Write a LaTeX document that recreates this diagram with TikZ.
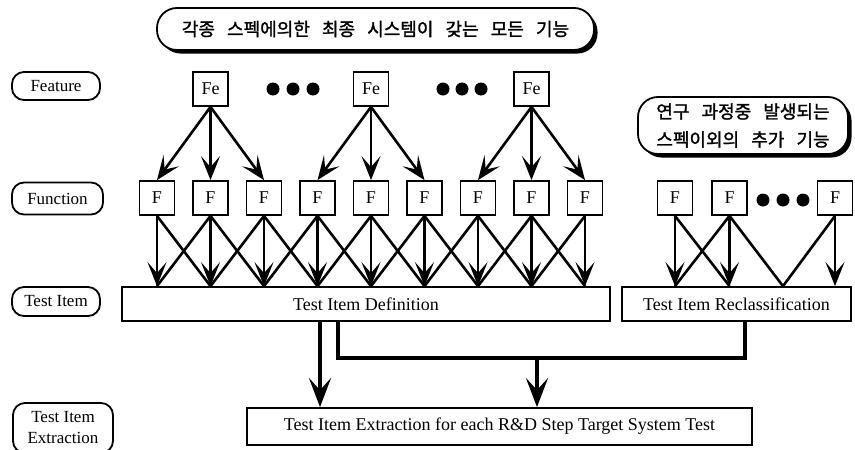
\documentclass[tikz,border=0pt]{standalone}
\usepackage{fontspec}
\setmainfont{Liberation Serif}
\newfontfamily\kr{Noto Sans CJK KR}[WordSpace=3,FakeBold=1.5]
\usepackage{tikz}
\usetikzlibrary{arrows.meta,positioning,shadows}

\begin{document}
\begin{tikzpicture}[x=1pt, y=-1pt,
    lbl/.style={rectangle, rounded corners=12pt, draw=black, line width=1.8pt, align=center, inner sep=1pt, font=\fontsize{17}{21}\selectfont},
    fbox/.style={rectangle, draw=black, line width=1.8pt, minimum width=35pt, minimum height=34pt, inner sep=0pt, font=\fontsize{18}{20}\selectfont},
    note/.style={rectangle, rounded corners=20pt, draw=black, line width=1.8pt, fill=white, align=center, font=\kr\fontsize{18}{28}\selectfont, drop shadow={shadow xshift=3.5pt, shadow yshift=-3.5pt, fill=black, opacity=1}},
    bar/.style={rectangle, draw=black, line width=1.8pt, inner sep=0pt, font=\fontsize{18}{20}\selectfont},
    arr/.style={-{Stealth[length=24pt, width=19pt, inset=11pt]}, line width=2.6pt},
    wire/.style={line width=2.6pt},
    heavy/.style={line width=4.5pt},
    bigarr/.style={-{Stealth[length=29pt, width=22pt, inset=12pt]}, line width=4.5pt},
    dot/.style={circle, fill=black, inner sep=0pt, minimum size=13pt}
]
\useasboundingbox (0,0) rectangle (855,450);
\clip (0,0) rectangle (855,450);

\node[note, minimum width=437pt, minimum height=42pt] (spec) at (375.5,29) {각종 스펙에의한 최종 시스템이 갖는 모든 기능};
\node[note, minimum width=210pt, minimum height=57pt] (extra) at (743,125.5) {연구 과정중 발생되는\\스펙이외의 추가 기능};

\node[lbl, minimum width=88pt, minimum height=28pt] (lfeat) at (56,86) {Feature};
\node[lbl, minimum width=91pt, minimum height=32pt] (lfunc) at (57.5,198.5) {Function};
\node[lbl, minimum width=88pt, minimum height=29pt] (litem) at (56,301.5) {Test Item};
\node[lbl, minimum width=100pt, minimum height=50pt] (lext) at (63,428) {Test Item\\Extraction};

\node[fbox] (fe1) at (210.5,89) {Fe};
\node[fbox] (fe2) at (371,89) {Fe};
\node[fbox] (fe3) at (531.5,89) {Fe};
\foreach \x [count=\k] in {273,293,313,443,462,481}
  \node[dot] (dot\k) at (\x,89) {};

\foreach \i in {1,...,9}
  \node[fbox] (f\i) at ({157+53.5*(\i-1)},198) {F};
\node[fbox] (g1) at (675,198) {F};
\node[fbox] (g2) at (729.5,198) {F};
\node[fbox] (g3) at (835,198) {F};
\foreach \x [count=\k] in {763,783,803}
  \node[dot] (gdot\k) at (\x,200) {};

\node[bar, minimum width=488pt, minimum height=34pt] (def) at (366,304) {Test Item Definition};
\node[bar, minimum width=229pt, minimum height=34pt] (recl) at (736.5,304) {Test Item Reclassification};
\node[bar, minimum width=505pt, minimum height=37pt] (ext) at (499.5,426.5) {Test Item Extraction for each R\&D Step Target System Test};

\foreach \e/\a/\b/\c in {fe1/f1/f2/f3, fe2/f4/f5/f6, fe3/f7/f8/f9}
  \foreach \t in {\a,\b,\c}
    \draw[arr] (\e.south) -- (\t.north);

\foreach \i/\j in {1/2,2/3,3/4,4/5,5/6,6/7,7/8,8/9} {
  \draw[wire] (f\i.south) -- (f\j.south |- def.north);
  \draw[wire] (f\j.south) -- (f\i.south |- def.north);
}
\foreach \i in {1,...,9}
  \draw[arr] (f\i.south) -- (f\i.south |- def.north);

\coordinate (vtip) at ([xshift=46.5pt]recl.north);
\draw[wire] (g1.south) -- (g2.south |- recl.north);
\draw[wire] (g2.south) -- (g1.south |- recl.north);
\draw[wire] (g2.south) -- (vtip) -- (g3.south);
\foreach \g in {g1,g2,g3}
  \draw[arr] (\g.south) -- (\g.south |- recl.north);

\coordinate (split) at (537,358);
\draw[bigarr] ([xshift=-46pt]def.south) -- ([xshift=-46pt]def.south |- ext.north);
\draw[heavy] ([xshift=-28pt]def.south) |- (split) -| ([xshift=8.5pt]recl.south);
\draw[bigarr] (split) -- (split |- ext.north);

\end{tikzpicture}
\end{document}
